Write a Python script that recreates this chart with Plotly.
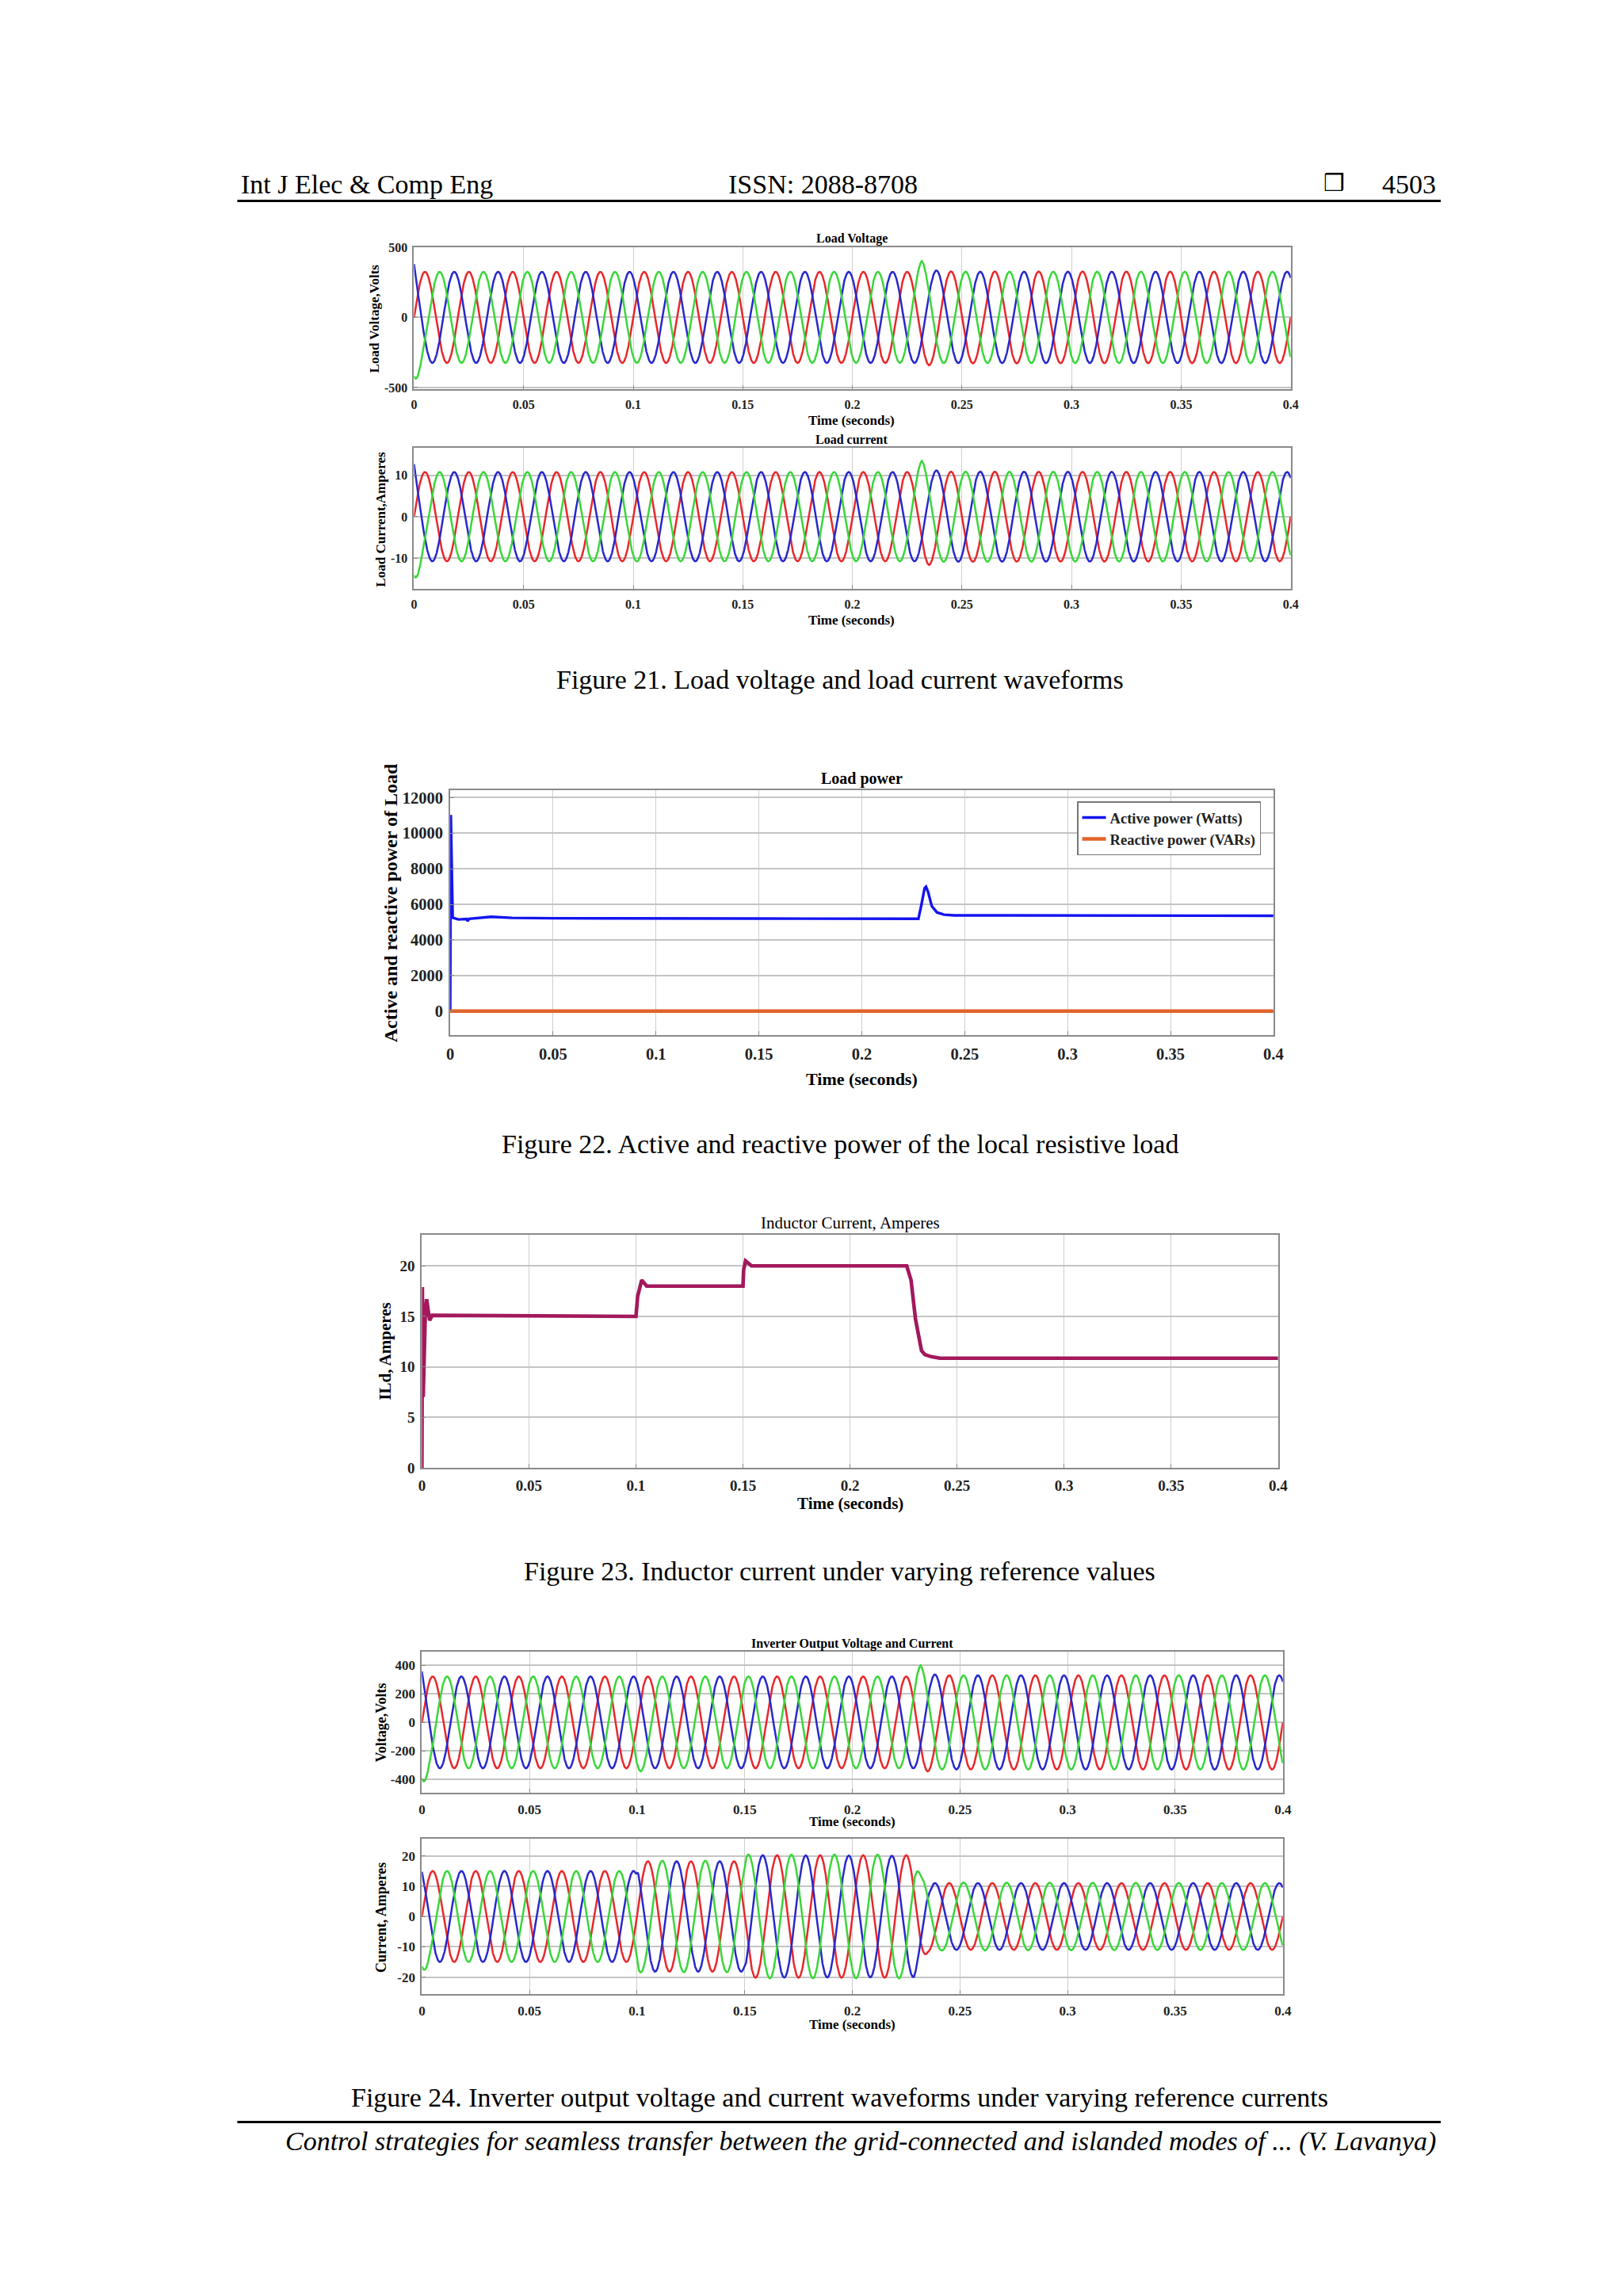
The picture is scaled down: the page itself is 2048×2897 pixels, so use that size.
import numpy as np
import plotly.graph_objects as go

W, H = 2048, 2897
SERIF = "Liberation Serif"

# ---------------- data ----------------
t_end = 0.4
f_hz = 50.0
x_tickvals = [0, 0.05, 0.1, 0.15, 0.2, 0.25, 0.3, 0.35, 0.4]
x_ticktext = ["0", "0.05", "0.1", "0.15", "0.2", "0.25", "0.3", "0.35", "0.4"]
phase_names = ["Phase a", "Phase b", "Phase c"]
phase_shift_deg = [0, 120, -120]
phase_colors = ["#e8282c", "#2828cc", "#3ad63a"]

# Figure 21 - load voltage: peak-envelope breakpoints per phase (s, V)
lv_env_t = [[0, 0.005, 0.229, 0.235, 0.241, 0.4],
            [0, 0.003, 0.232, 0.2383, 0.244, 0.4],
            [0, 0.004, 0.226, 0.2317, 0.237, 0.4]]
lv_env_a = [[330, 325, 325, 342, 328, 326],
            [440, 325, 325, 335, 326, 326],
            [485, 325, 325, 402, 326, 326]]
lv_ytick = [-500, 0, 500]
lv_yticktext = ["-500", "0", "500"]

# Figure 21 - load current: peak-envelope breakpoints per phase (s, A)
lc_env_t = [[0, 0.005, 0.229, 0.235, 0.241, 0.4],
            [0, 0.003, 0.232, 0.2383, 0.244, 0.4],
            [0, 0.004, 0.226, 0.2317, 0.237, 0.4]]
lc_env_a = [[11.0, 10.8, 10.8, 11.7, 10.9, 10.8],
            [14.7, 10.8, 10.8, 11.2, 10.9, 10.8],
            [16.4, 10.8, 10.8, 13.5, 10.9, 10.8]]
lc_ytick = [-10, 0, 10]
lc_yticktext = ["-10", "0", "10"]

# Figure 22 - load power
lp_t = [0, 0.0003, 0.0012, 0.004, 0.0080, 0.0085, 0.0092, 0.015, 0.020, 0.030,
        0.050, 0.150, 0.2275, 0.2290, 0.2305, 0.2312, 0.2322, 0.2340, 0.2365,
        0.2400, 0.2450, 0.4]
lp_active = [0, 11030, 5250, 5150, 5180, 5060, 5190, 5260, 5300, 5240,
             5220, 5200, 5190, 6000, 6900, 6990, 6700, 5900, 5550,
             5420, 5380, 5360]
lp_reactive_t = [0, 0.4]
lp_reactive = [0, 0]
lp_ytick = [0, 2000, 4000, 6000, 8000, 10000, 12000]
lp_yticktext = ["0", "2000", "4000", "6000", "8000", "10000", "12000"]

# Figure 23 - inductor current ILd
il_t = [0, 0.0002, 0.0006, 0.0016, 0.0022, 0.0030, 0.0036, 0.0048, 0.1000,
        0.1008, 0.1027, 0.1050, 0.1500, 0.1503, 0.1512, 0.1540, 0.2265,
        0.2285, 0.2306, 0.2334, 0.2350, 0.2380, 0.2420, 0.2500, 0.4]
il_val = [0, 17.9, 7.0, 15.5, 16.7, 15.6, 14.6, 15.1, 15.0,
          17.0, 18.6, 18.0, 18.0, 19.6, 20.5, 20.0, 20.0,
          18.6, 14.7, 11.6, 11.2, 11.0, 10.85, 10.85, 10.85]
il_ytick = [0, 5, 10, 15, 20]
il_yticktext = ["0", "5", "10", "15", "20"]

# Figure 24 - inverter output voltage envelopes (s, V)
iv_env_t = [[0, 0.005, 0.229, 0.235, 0.241, 0.4],
            [0, 0.003, 0.232, 0.2383, 0.244, 0.4],
            [0, 0.004, 0.096, 0.1017, 0.107, 0.226, 0.2317, 0.237, 0.4]]
iv_env_a = [[325, 322, 322, 344, 330, 330],
            [413, 322, 322, 336, 330, 330],
            [456, 322, 322, 344, 322, 322, 400, 330, 330]]
iv_ytick = [-400, -200, 0, 200, 400]
iv_yticktext = ["-400", "-200", "0", "200", "400"]

# Figure 24 - inverter output current envelopes (s, A)
ic_env_t = [[0, 0.0995, 0.1005, 0.1495, 0.1505, 0.229, 0.235, 0.240, 0.4],
            [0, 0.003, 0.0995, 0.1005, 0.1495, 0.1505, 0.2286, 0.236, 0.4],
            [0, 0.004, 0.0995, 0.1005, 0.1495, 0.1505, 0.2285, 0.2317, 0.2417, 0.4]]
ic_env_a = [[15.0, 15.0, 18.2, 18.2, 20.2, 20.2, 11.7, 11.0, 11.0],
            [17.0, 15.0, 15.0, 18.2, 18.2, 20.2, 20.0, 11.0, 11.0],
            [19.0, 15.0, 15.0, 18.4, 18.4, 20.4, 20.4, 13.3, 11.2, 11.0]]
ic_ytick = [-20, -10, 0, 10, 20]
ic_yticktext = ["-20", "-10", "0", "10", "20"]

# ---------------- layout geometry (pixels) ----------------
boxes = {
    1: dict(x=(514, 1630), y=(298, 478), yr=[-511, 500], yt=lv_ytick, ytt=lv_yticktext),
    2: dict(x=(514, 1630), y=(553, 732), yr=[-17.5, 16.6], yt=lc_ytick, ytt=lc_yticktext),
    3: dict(x=(560, 1608), y=(987, 1299), yr=[-1370, 12440], yt=lp_ytick, ytt=lp_yticktext),
    4: dict(x=(524, 1614), y=(1552, 1848), yr=[0, 23.1], yt=il_ytick, ytt=il_yticktext),
    5: dict(x=(524, 1620), y=(2082, 2261), yr=[-494, 494], yt=iv_ytick, ytt=iv_yticktext),
    6: dict(x=(524, 1620), y=(2319, 2517), yr=[-25.7, 25.7], yt=ic_ytick, ytt=ic_yticktext),
}
tick_size = {1: 16, 2: 16, 3: 20.5, 4: 19, 5: 17, 6: 17}


def px(x):
    return x / W


def py(y):
    return 1 - y / H


t = np.linspace(0, t_end, 8001)


def phase_wave(env_t, env_a, k):
    amp = np.interp(t, env_t, env_a)
    return amp * np.sin(2 * np.pi * f_hz * t + np.deg2rad(phase_shift_deg[k]))


fig = go.Figure()


def add_three_phase(env_t, env_a, n):
    for k in range(3):
        fig.add_trace(go.Scatter(
            x=t, y=phase_wave(env_t[k], env_a[k], k), mode="lines",
            line=dict(color=phase_colors[k], width=2.5),
            name=phase_names[k], showlegend=False,
            xaxis="x" if n == 1 else f"x{n}", yaxis="y" if n == 1 else f"y{n}"))


add_three_phase(lv_env_t, lv_env_a, 1)
add_three_phase(lc_env_t, lc_env_a, 2)

fig.add_trace(go.Scatter(x=lp_t, y=lp_active, mode="lines",
                         line=dict(color="#1414f0", width=3.4),
                         name="Active power (Watts)", xaxis="x3", yaxis="y3"))
fig.add_trace(go.Scatter(x=lp_reactive_t, y=lp_reactive, mode="lines",
                         line=dict(color="#e2622c", width=4.5),
                         name="Reactive power (VARs)", xaxis="x3", yaxis="y3"))

fig.add_trace(go.Scatter(x=il_t, y=il_val, mode="lines",
                         line=dict(color="#a3185c", width=4.6),
                         name="ILd", showlegend=False, xaxis="x4", yaxis="y4"))

add_three_phase(iv_env_t, iv_env_a, 5)
add_three_phase(ic_env_t, ic_env_a, 6)

layout = dict(
    width=W, height=H, paper_bgcolor="white", plot_bgcolor="white",
    margin=dict(l=0, r=0, t=0, b=0),
    font=dict(family=SERIF, color="black"),
    showlegend=True,
    legend=dict(x=px(1358), y=py(1002), xanchor="left", yanchor="top",
                bgcolor="white", bordercolor="#777777", borderwidth=1.5,
                font=dict(family=SERIF, size=18.5, weight="bold", color="#222222"),
                tracegroupgap=0, itemwidth=30),
)

for n, b in boxes.items():
    xs = "xaxis" if n == 1 else f"xaxis{n}"
    ys = "yaxis" if n == 1 else f"yaxis{n}"
    layout[xs] = dict(
        domain=[px(b["x"][0]), px(b["x"][1])], anchor="y" if n == 1 else f"y{n}",
        range=[0, t_end], tickvals=x_tickvals, ticktext=x_ticktext,
        showgrid=True, gridcolor="#cfcfcf", gridwidth=1.2, zeroline=False,
        showline=True, mirror=True, linecolor="#8a8a8a", linewidth=2,
        ticks="inside", ticklen=5, tickcolor="#8a8a8a",
        tickfont=dict(family=SERIF, size=tick_size[n], weight="bold", color="#222222"),
        ticklabelstandoff=4,
    )
    layout[ys] = dict(
        domain=[py(b["y"][1]), py(b["y"][0])], anchor="x" if n == 1 else f"x{n}",
        range=b["yr"], tickvals=b["yt"], ticktext=b["ytt"],
        showgrid=True, gridcolor="#c4c4c4", gridwidth=1.8, zeroline=False,
        showline=True, mirror=True, linecolor="#8a8a8a", linewidth=2,
        ticks="inside", ticklen=5, tickcolor="#8a8a8a",
        tickfont=dict(family=SERIF, size=tick_size[n], weight="bold", color="#222222"),
        ticklabelstandoff=3,
    )

ann = []


def txt(x, y, s, size, bold=False, italic=False, xanchor="center", angle=0,
        family=SERIF, color="black"):
    ann.append(dict(
        x=px(x), y=py(y), xref="paper", yref="paper", text=s, showarrow=False,
        xanchor=xanchor, yanchor="middle", textangle=angle,
        font=dict(family=family, size=size, color=color,
                  weight="bold" if bold else "normal",
                  style="italic" if italic else "normal")))


# page header / footer
txt(292, 218, "Int J Elec & Comp Eng", 34, xanchor="left")
txt(1035, 218, "ISSN: 2088-8708", 34)
txt(1685, 216, "❒", 30, family="DejaVu Sans")
txt(1817, 218, "4503", 34, xanchor="right")
txt(1817, 2704, "Control strategies for seamless transfer between the grid-connected and "
    "islanded modes of ... (V. Lavanya)", 34, italic=True, xanchor="right")

# captions
txt(1056, 847, "Figure 21. Load voltage and load current waveforms", 34)
txt(1056, 1437, "Figure 22. Active and reactive power of the local resistive load", 34)
txt(1056, 1979, "Figure 23. Inductor current under varying reference values", 34)
txt(1056, 2648, "Figure 24. Inverter output voltage and current waveforms under "
    "varying reference currents", 34)

# chart titles and axis titles
txt(1071, 287, "Load Voltage", 16, bold=True)
txt(1071, 518, "Time (seconds)", 17, bold=True)
txt(464, 388, "Load Voltage,Volts", 17, bold=True, angle=-90)
txt(1071, 542, "Load current", 16, bold=True)
txt(1071, 772, "Time (seconds)", 17, bold=True)
txt(472, 643, "Load Current,Amperes", 17, bold=True, angle=-90)

txt(1084, 973, "Load power", 20, bold=True)
txt(1084, 1354, "Time (seconds)", 22, bold=True)
txt(484, 1131, "Active and reactive power of Load", 24, bold=True, angle=-90)

txt(1069, 1537, "Inductor Current, Amperes", 21)
txt(1069, 1893, "Time (seconds)", 21, bold=True)
txt(477, 1700, "ILd, Amperes", 21, bold=True, angle=-90)

txt(1072, 2072, "Inverter Output Voltage and Current", 16, bold=True)
txt(1072, 2298, "Time (seconds)", 17, bold=True)
txt(472, 2172, "Voltage,Volts", 18, bold=True, angle=-90)
txt(1072, 2555, "Time (seconds)", 17, bold=True)
txt(472, 2419, "Current, Amperes", 18, bold=True, angle=-90)

layout["annotations"] = ann
layout["shapes"] = [
    dict(type="line", xref="paper", yref="paper", x0=px(289), x1=px(1821),
         y0=py(239), y1=py(239), line=dict(color="black", width=3)),
    dict(type="line", xref="paper", yref="paper", x0=px(289), x1=px(1821),
         y0=py(2679), y1=py(2679), line=dict(color="black", width=3)),
]

fig.update_layout(**layout)
fig.write_html("out.html")
